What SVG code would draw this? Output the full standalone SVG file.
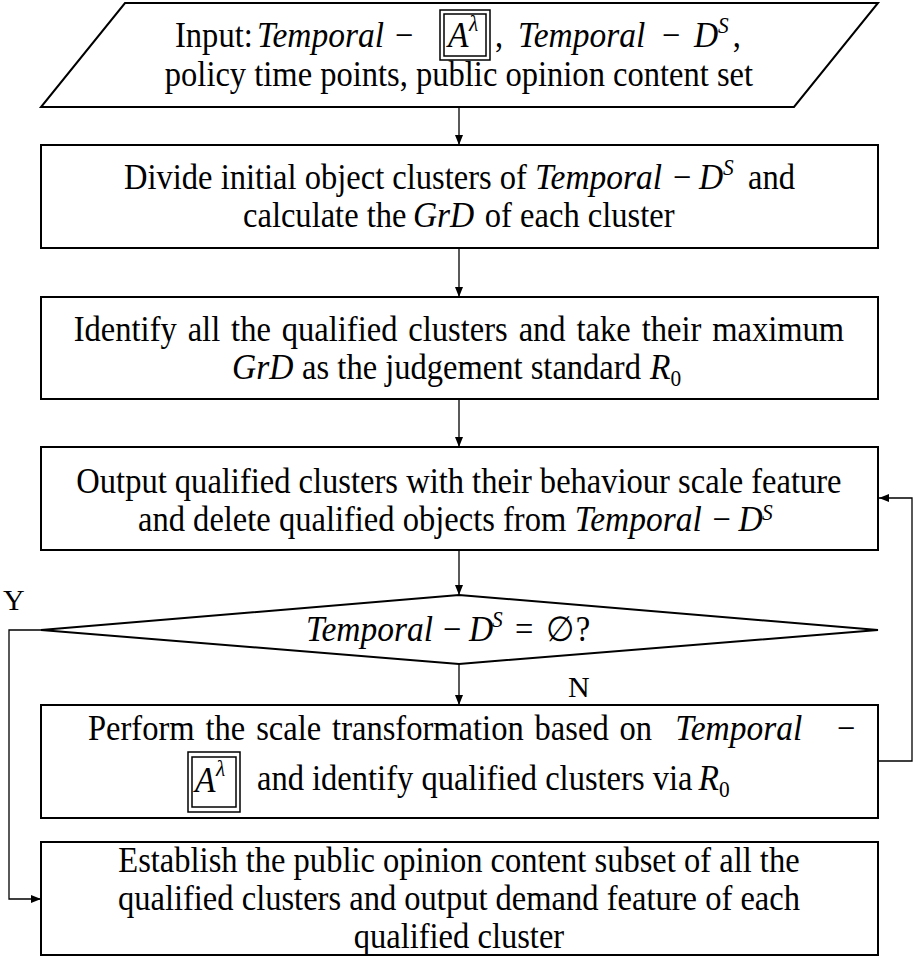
<svg xmlns="http://www.w3.org/2000/svg" width="915" height="959" viewBox="0 0 915 959">
<defs>
<marker id="arr" viewBox="0 0 10 8" refX="10" refY="4" markerWidth="10" markerHeight="8" markerUnits="userSpaceOnUse" orient="auto">
<path d="M0,0 L10,4 L0,8 Z" fill="#000"/>
</marker>
</defs>
<style>
.shape{fill:#fff;stroke:#000;stroke-width:2}
.conn{fill:none;stroke:#000;stroke-width:1.3}
.t{font-family:"Liberation Serif","Times New Roman",serif;font-size:35px;fill:#000}
.c{text-anchor:middle}
.m{font-style:italic;font-size:36px}
.sup{font-size:23px}
.sub{font-size:23px}
.lbl{font-family:"Liberation Serif","Times New Roman",serif;font-size:30px;fill:#000}
.box2{fill:none;stroke:#000;stroke-width:1.5}
</style>
<rect width="915" height="959" fill="#fff"/>

<g id="input">
<polygon class="shape" points="125,3 878,3 794,107 41,107"/>
<rect class="box2" x="440" y="10" width="50" height="50"/>
<rect class="box2" x="444" y="14" width="42" height="42"/>
<g transform="scale(0.93,1)">
<text class="t" y="47"><tspan x="188.2">Input:</tspan><tspan class="m" x="276.3">Temporal</tspan><tspan x="424.7">−</tspan><tspan class="m" x="481.7">A</tspan><tspan class="m sup" x="504.3" y="31">λ</tspan><tspan x="532.3" y="47">,</tspan><tspan class="m" x="557.1">Temporal</tspan><tspan x="711.8">−</tspan><tspan class="m" x="746.2">D</tspan><tspan class="m sup" x="772" y="33">S</tspan><tspan x="788" y="47">,</tspan></text>
<text class="t c" x="493.5" y="86">policy time points, public opinion content set</text>
</g>
</g>

<g id="divide">
<rect class="shape" x="41" y="145" width="837" height="103"/>
<g transform="scale(0.93,1)">
<text class="t" y="189"><tspan x="133.3">Divide initial object clusters of</tspan><tspan class="m" x="575.3">Temporal</tspan><tspan x="723.7">−</tspan><tspan class="m" x="751.6">D</tspan><tspan class="m sup" x="777.4" y="175">S</tspan><tspan x="795.7" y="189"> and</tspan></text>
<text class="t" y="227"><tspan x="261.3">calculate the</tspan><tspan class="m" x="444">GrD</tspan><tspan x="512.6"> of each cluster</tspan></text>
</g>
</g>

<g id="identify">
<rect class="shape" x="41" y="297" width="837" height="102"/>
<g transform="scale(0.93,1)">
<text class="t c" x="493.5" y="341" word-spacing="3">Identify all the qualified clusters and take their maximum</text>
<text class="t" y="379"><tspan class="m" x="249.5">GrD</tspan><tspan x="316.1"> as the judgement standard</tspan><tspan class="m" x="699">R</tspan><tspan class="sub" x="721" y="386">0</tspan></text>
</g>
</g>

<g id="output">
<rect class="shape" x="41" y="447" width="837" height="103"/>
<g transform="scale(0.93,1)">
<text class="t c" x="493.5" y="493">Output qualified clusters with their behaviour scale feature</text>
<text class="t" y="531"><tspan x="148.4">and delete qualified objects from</tspan><tspan class="m" x="618">Temporal</tspan><tspan x="766.2">−</tspan><tspan class="m" x="794.2">D</tspan><tspan class="m sup" x="819.4" y="520" font-size="22">S</tspan></text>
</g>
</g>

<g id="decision">
<polygon class="shape" points="459,595 878,630 459,664 41,630"/>
<g transform="scale(0.93,1)">
<text class="t" y="641"><tspan class="m" x="329">Temporal</tspan><tspan x="476.3">−</tspan><tspan class="m" x="504.3">D</tspan><tspan class="m sup" x="529" y="627">S</tspan><tspan x="553.8" y="641">=</tspan><tspan x="587">∅</tspan><tspan x="619">?</tspan></text>
</g>
</g>

<g id="transform">
<rect class="shape" x="41" y="705" width="837" height="113"/>
<rect class="box2" x="188" y="752" width="52" height="60"/>
<rect class="box2" x="192" y="757" width="44" height="50"/>
<g transform="scale(0.93,1)">
<text class="t" y="740"><tspan x="94.6" word-spacing="3">Perform the scale transformation based on</tspan><tspan class="m" x="726">Temporal</tspan><tspan x="900">−</tspan></text>
<text class="t" y="792"><tspan class="m" x="209.7">A</tspan><tspan class="m sup" x="232.3" y="776">λ</tspan></text>
<text class="t" y="790"><tspan x="276.3">and identify qualified clusters via</tspan><tspan class="m" x="751">R</tspan><tspan class="sub" x="773" y="797">0</tspan></text>
</g>
</g>

<g id="establish">
<rect class="shape" x="41" y="842" width="837" height="113"/>
<g transform="scale(0.93,1)">
<text class="t c" x="493.5" y="872">Establish the public opinion content subset of all the</text>
<text class="t c" x="493.5" y="910">qualified clusters and output demand feature of each</text>
<text class="t c" x="493.5" y="948">qualified cluster</text>
</g>
</g>

<g id="connectors">
<line class="conn" x1="459" y1="107" x2="459" y2="145" marker-end="url(#arr)"/>
<line class="conn" x1="459" y1="248" x2="459" y2="297" marker-end="url(#arr)"/>
<line class="conn" x1="459" y1="399" x2="459" y2="447" marker-end="url(#arr)"/>
<line class="conn" x1="459" y1="550" x2="459" y2="595" marker-end="url(#arr)"/>
<line class="conn" x1="459" y1="664" x2="459" y2="705" marker-end="url(#arr)"/>
<polyline class="conn" points="41,630 9,630 9,899 41,899" marker-end="url(#arr)"/>
<polyline class="conn" points="878,761 912,761 912,498 879,498" marker-end="url(#arr)"/>
<text class="lbl" x="3" y="610">Y</text>
<text class="lbl" x="568" y="697">N</text>
</g>
</svg>
